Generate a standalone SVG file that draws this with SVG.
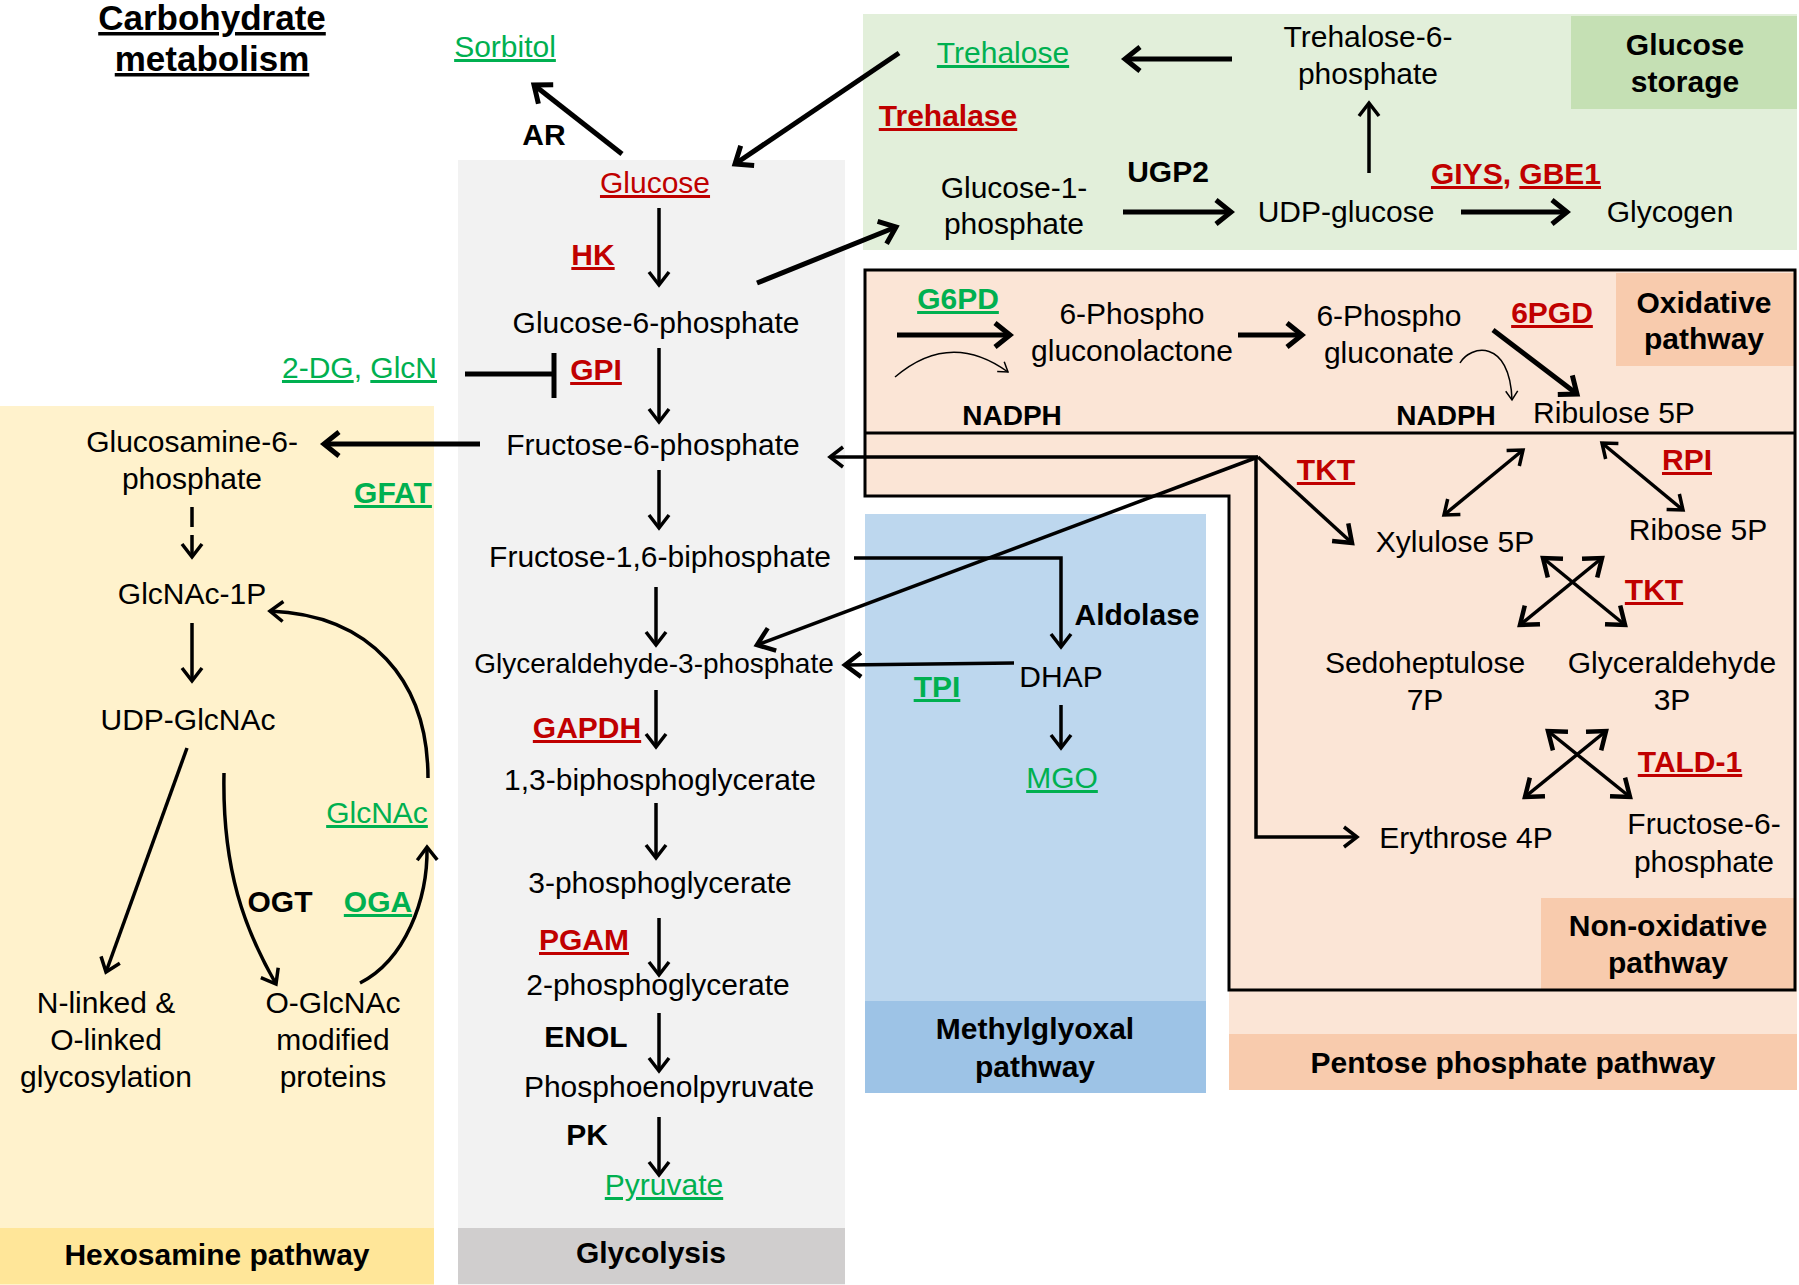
<svg xmlns="http://www.w3.org/2000/svg" width="1799" height="1285" viewBox="0 0 1799 1285">
<style>
text{font-family:"Liberation Sans",Arial,sans-serif;font-size:30px;fill:#000;text-anchor:middle}
.b{font-weight:bold}
.r{fill:#c00000}
.g{fill:#00b050}
.u{text-decoration:underline}
.ttl{font-size:35px}
.s28{font-size:28px}
.st{stroke:#000;fill:none;stroke-width:3.5}
.tk{stroke:#000;fill:none;stroke-width:5}
.tn{stroke:#000;fill:none;stroke-width:1.5}
</style>
<defs>
<marker id="ah" markerUnits="userSpaceOnUse" orient="auto-start-reverse" refX="0" refY="0" markerWidth="30" markerHeight="30" overflow="visible"><path d="M-13,-10 L0,0 L-13,10" fill="none" stroke="#000" stroke-width="3.5"/></marker>
<marker id="ahM" markerUnits="userSpaceOnUse" orient="auto-start-reverse" refX="0" refY="0" markerWidth="30" markerHeight="30" overflow="visible"><path d="M-16,-12 L0,0 L-16,12" fill="none" stroke="#000" stroke-width="4.5"/></marker>
<marker id="ahT" markerUnits="userSpaceOnUse" orient="auto-start-reverse" refX="0" refY="0" markerWidth="30" markerHeight="30" overflow="visible"><path d="M-15,-12 L0,0 L-15,12" fill="none" stroke="#000" stroke-width="5"/></marker>
<marker id="ahS" markerUnits="userSpaceOnUse" orient="auto" refX="0" refY="0" markerWidth="20" markerHeight="20" overflow="visible"><path d="M-9,-6 L0,0 L-9,6" fill="none" stroke="#000" stroke-width="1.5"/></marker>
</defs>
<rect width="1799" height="1285" fill="#fff"/>
<g id="panels">
<rect id="hexosamine-panel" x="0" y="406" width="434" height="879" fill="#fff2cc"/>
<rect x="0" y="1228" width="434" height="56" fill="#ffe699"/>
<rect id="glycolysis-panel" x="458" y="160" width="387" height="1125" fill="#f2f2f2"/>
<rect x="458" y="1228" width="387" height="56" fill="#d0cece"/>
<rect id="storage-panel" x="863" y="14" width="934" height="236" fill="#e2efda"/>
<rect x="1571" y="16" width="226" height="93" fill="#c5e0b4"/>
<rect id="mgo-panel" x="865" y="514" width="341" height="579" fill="#bdd7ee"/>
<rect x="865" y="1001" width="341" height="92" fill="#9dc3e6"/>
<path id="ppp-panel" d="M865,270 H1797 V1090 H1229 V496 H865 Z" fill="#fbe5d6"/>
<rect x="1229" y="1034" width="568" height="56" fill="#f8cbad"/>
<rect x="1616" y="273" width="178" height="93" fill="#f8cbad"/>
<rect x="1541" y="898" width="254" height="91" fill="#f8cbad"/>
<path d="M865,270 H1795 V990 H1229 V496 H865 Z M865,433 H1795" fill="none" stroke="#000" stroke-width="3"/>
</g>
<g id="connectors">
<line class="st" x1="659" y1="208" x2="659" y2="285" marker-end="url(#ah)"/>
<line class="st" x1="659" y1="348" x2="659" y2="422" marker-end="url(#ah)"/>
<line class="st" x1="659" y1="470" x2="659" y2="528" marker-end="url(#ah)"/>
<line class="st" x1="656" y1="587" x2="656" y2="645" marker-end="url(#ah)"/>
<line class="st" x1="656" y1="690" x2="656" y2="747" marker-end="url(#ah)"/>
<line class="st" x1="656" y1="803" x2="656" y2="858" marker-end="url(#ah)"/>
<line class="st" x1="659" y1="918" x2="659" y2="975" marker-end="url(#ah)"/>
<line class="st" x1="659" y1="1013" x2="659" y2="1071" marker-end="url(#ah)"/>
<line class="st" x1="659" y1="1117" x2="659" y2="1175" marker-end="url(#ah)"/>
<line class="tk" x1="622" y1="154" x2="534" y2="85" marker-end="url(#ahT)"/>
<line class="tk" x1="899" y1="53" x2="735" y2="164" marker-end="url(#ahT)"/>
<line class="tk" x1="757" y1="283" x2="896" y2="227" marker-end="url(#ahT)"/>
<path class="tk" d="M465,374 H554 M554,353 V398"/>
<line class="tk" x1="480" y1="444" x2="324" y2="444" marker-end="url(#ahT)"/>
<line class="st" x1="192" y1="507" x2="192" y2="557" stroke-dasharray="20 8" marker-end="url(#ah)"/>
<line class="st" x1="192" y1="623" x2="192" y2="681" marker-end="url(#ah)"/>
<line class="st" x1="187" y1="748" x2="106" y2="972" marker-end="url(#ah)"/>
<path class="st" d="M224,773 C222,870 245,930 276,984" marker-end="url(#ah)"/>
<path class="st" d="M360,983 C405,960 428,900 427,847" marker-end="url(#ah)"/>
<path class="st" d="M428,778 C428,680 370,615 270,611" marker-end="url(#ah)"/>
<line class="tk" x1="1232" y1="59" x2="1125" y2="59" marker-end="url(#ahT)"/>
<line class="st" x1="1369" y1="173" x2="1369" y2="103" marker-end="url(#ah)"/>
<line class="tk" x1="1123" y1="212" x2="1231" y2="212" marker-end="url(#ahT)"/>
<line class="tk" x1="1461" y1="212" x2="1567" y2="212" marker-end="url(#ahT)"/>
<line class="tk" x1="897" y1="335" x2="1010" y2="335" marker-end="url(#ahT)"/>
<path class="tn" d="M895,377 Q950,330 1008,372" marker-end="url(#ahS)"/>
<line class="tk" x1="1238" y1="335" x2="1302" y2="335" marker-end="url(#ahT)"/>
<path class="tn" d="M1460,363 C1470,345 1510,338 1512,400" marker-end="url(#ahS)"/>
<line class="tk" x1="1493" y1="330" x2="1577" y2="394" marker-end="url(#ahT)"/>
<line class="st" stroke-width="4" x1="1258" y1="457" x2="830" y2="457" marker-end="url(#ah)"/>
<line class="st" stroke-width="4.5" x1="1258" y1="457" x2="757" y2="645" marker-end="url(#ahM)"/>
<line class="st" stroke-width="4.5" x1="1258" y1="457" x2="1352" y2="543" marker-end="url(#ahM)"/>
<polyline class="st" points="1256,457 1256,837 1357,837" marker-end="url(#ah)"/>
<polyline class="st" stroke-width="3" points="854,558 1061,558 1061,647" marker-end="url(#ah)"/>
<line class="st" stroke-width="4.5" x1="1014" y1="663" x2="845" y2="665" marker-end="url(#ahM)"/>
<line class="st" stroke-width="3" x1="1061" y1="705" x2="1061" y2="748" marker-end="url(#ah)"/>
<line class="st" x1="1444" y1="515" x2="1523" y2="450" marker-start="url(#ah)" marker-end="url(#ah)"/>
<line class="st" x1="1602" y1="443" x2="1683" y2="510" marker-start="url(#ah)" marker-end="url(#ah)"/>
<line class="st" stroke-width="4.5" x1="1543" y1="558" x2="1625" y2="625" marker-start="url(#ahM)" marker-end="url(#ahM)"/>
<line class="st" stroke-width="4.5" x1="1602" y1="558" x2="1520" y2="625" marker-start="url(#ahM)" marker-end="url(#ahM)"/>
<line class="st" stroke-width="4.5" x1="1548" y1="731" x2="1630" y2="797" marker-start="url(#ahM)" marker-end="url(#ahM)"/>
<line class="st" stroke-width="4.5" x1="1606" y1="731" x2="1525" y2="797" marker-start="url(#ahM)" marker-end="url(#ahM)"/>
</g>
<g id="title"><text class="b u ttl" x="212" y="30">Carbohydrate</text><text class="b u ttl" x="212" y="71">metabolism</text></g>
<g id="glucose"><text class="r u" x="655" y="193">Glucose</text></g>
<g id="sorbitol"><text class="g u" x="505" y="57">Sorbitol</text></g>
<g id="ar"><text class="b" x="544" y="145">AR</text></g>
<g id="hk"><text class="b r u" x="593" y="265">HK</text></g>
<g id="g6p"><text x="656" y="333">Glucose-6-phosphate</text></g>
<g id="gpi"><text class="b r u" x="596" y="380">GPI</text></g>
<g id="inhibitors"><text class="g" x="437" y="378" style="text-anchor:end"><tspan class="u">2-DG</tspan>, <tspan class="u">GlcN</tspan></text></g>
<g id="f6p"><text x="653" y="455">Fructose-6-phosphate</text></g>
<g id="glcn6p"><text x="192" y="452">Glucosamine-6-</text><text x="192" y="489">phosphate</text></g>
<g id="gfat"><text class="b g u" x="393" y="503">GFAT</text></g>
<g id="glcnac1p"><text x="192" y="604">GlcNAc-1P</text></g>
<g id="udpglcnac"><text x="188" y="730">UDP-GlcNAc</text></g>
<g id="glcnac"><text class="g u" x="377" y="823">GlcNAc</text></g>
<g id="ogt"><text class="b" x="280" y="912">OGT</text></g>
<g id="oga"><text class="b g u" x="378" y="912">OGA</text></g>
<g id="nlinked"><text x="106" y="1013">N-linked &amp;</text><text x="106" y="1050">O-linked</text><text x="106" y="1087">glycosylation</text></g>
<g id="oglcnac"><text x="333" y="1013">O-GlcNAc</text><text x="333" y="1050">modified</text><text x="333" y="1087">proteins</text></g>
<g id="hexosamine-label"><text class="b" x="217" y="1265">Hexosamine pathway</text></g>
<g id="f16bp"><text x="660" y="567">Fructose-1,6-biphosphate</text></g>
<g id="g3p"><text class="s28" x="654" y="673">Glyceraldehyde-3-phosphate</text></g>
<g id="gapdh"><text class="b r u" x="587" y="738">GAPDH</text></g>
<g id="bpg13"><text x="660" y="790">1,3-biphosphoglycerate</text></g>
<g id="pg3"><text x="660" y="893">3-phosphoglycerate</text></g>
<g id="pgam"><text class="b r u" x="584" y="950">PGAM</text></g>
<g id="pg2"><text x="658" y="995">2-phosphoglycerate</text></g>
<g id="enol"><text class="b" x="586" y="1047">ENOL</text></g>
<g id="pep"><text x="669" y="1097">Phosphoenolpyruvate</text></g>
<g id="pk"><text class="b" x="587" y="1145">PK</text></g>
<g id="pyruvate"><text class="g u" x="664" y="1195">Pyruvate</text></g>
<g id="glycolysis-label"><text class="b" x="651" y="1263">Glycolysis</text></g>
<g id="trehalose"><text class="g u" x="1003" y="63">Trehalose</text></g>
<g id="t6p"><text x="1368" y="47">Trehalose-6-</text><text x="1368" y="84">phosphate</text></g>
<g id="trehalase"><text class="b r u" x="948" y="126">Trehalase</text></g>
<g id="storage-label"><text class="b" x="1685" y="55">Glucose</text><text class="b" x="1685" y="92">storage</text></g>
<g id="g1p"><text x="1014" y="198">Glucose-1-</text><text x="1014" y="234">phosphate</text></g>
<g id="ugp2"><text class="b" x="1168" y="182">UGP2</text></g>
<g id="udpglc"><text x="1346" y="222">UDP-glucose</text></g>
<g id="glys"><text class="b r" x="1516" y="184"><tspan class="u">GIYS</tspan>, <tspan class="u">GBE1</tspan></text></g>
<g id="glycogen"><text x="1670" y="222">Glycogen</text></g>
<g id="g6pd"><text class="b g u" x="958" y="309">G6PD</text></g>
<g id="pgl"><text x="1132" y="324">6-Phospho</text><text x="1132" y="361">gluconolactone</text></g>
<g id="pgluconate"><text x="1389" y="326">6-Phospho</text><text x="1389" y="363">gluconate</text></g>
<g id="pgd"><text class="b r u" x="1552" y="323">6PGD</text></g>
<g id="oxidative-label"><text class="b" x="1704" y="313">Oxidative</text><text class="b" x="1704" y="349">pathway</text></g>
<g id="nadph1"><text class="b s28" x="1012" y="425">NADPH</text></g>
<g id="nadph2"><text class="b s28" x="1446" y="425">NADPH</text></g>
<g id="ribulose"><text x="1614" y="423">Ribulose 5P</text></g>
<g id="tkt1"><text class="b r u" x="1326" y="480">TKT</text></g>
<g id="rpi"><text class="b r u" x="1687" y="470">RPI</text></g>
<g id="xylulose"><text x="1455" y="552">Xylulose 5P</text></g>
<g id="ribose"><text x="1698" y="540">Ribose 5P</text></g>
<g id="tkt2"><text class="b r u" x="1654" y="600">TKT</text></g>
<g id="sedo"><text x="1425" y="673">Sedoheptulose</text><text x="1425" y="710">7P</text></g>
<g id="gald"><text x="1672" y="673">Glyceraldehyde</text><text x="1672" y="710">3P</text></g>
<g id="tald"><text class="b r u" x="1690" y="772">TALD-1</text></g>
<g id="erythrose"><text x="1466" y="848">Erythrose 4P</text></g>
<g id="f6p2"><text x="1704" y="834">Fructose-6-</text><text x="1704" y="872">phosphate</text></g>
<g id="nonox-label"><text class="b" x="1668" y="936">Non-oxidative</text><text class="b" x="1668" y="973">pathway</text></g>
<g id="ppp-label"><text class="b" x="1513" y="1073">Pentose phosphate pathway</text></g>
<g id="aldolase"><text class="b" x="1137" y="625">Aldolase</text></g>
<g id="dhap"><text x="1061" y="687">DHAP</text></g>
<g id="tpi"><text class="b g u" x="937" y="697">TPI</text></g>
<g id="mgo"><text class="g u" x="1062" y="788">MGO</text></g>
<g id="mgo-label"><text class="b" x="1035" y="1039">Methylglyoxal</text><text class="b" x="1035" y="1077">pathway</text></g>
</svg>
